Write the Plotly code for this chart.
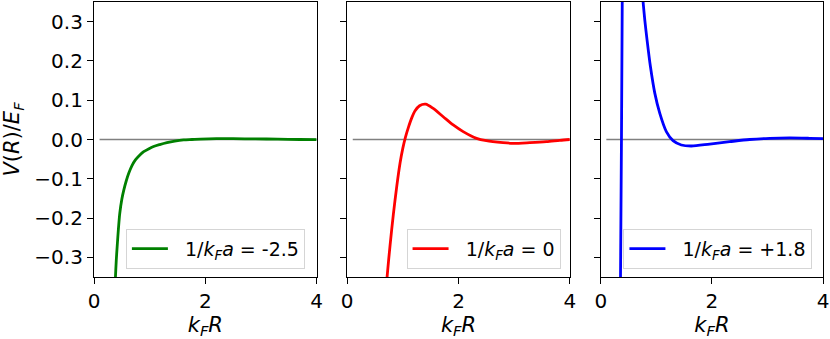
import plotly.graph_objects as go

# data
green_x = [0.37, 0.386, 0.40, 0.416, 0.44, 0.463, 0.50, 0.535, 0.58, 0.624, 0.68, 0.744, 0.82,
           0.893, 0.98, 1.07, 1.18, 1.31, 1.45, 1.61, 1.76, 1.91, 2.2, 2.5, 2.9, 3.3, 3.7, 4.0]
green_y = [-0.42, -0.349, -0.308, -0.273, -0.225, -0.188, -0.152, -0.129, -0.105, -0.086, -0.067,
           -0.052, -0.040, -0.031, -0.024, -0.018, -0.013, -0.008, -0.004, -0.001, 0.0, 0.001,
           0.002, 0.002, 0.0015, 0.001, 0.0, -0.0005]

red_x = [0.69, 0.72, 0.77, 0.83, 0.89, 0.95, 1.00, 1.045, 1.10, 1.16, 1.22, 1.30, 1.41, 1.545,
         1.725, 1.905, 2.084, 2.324, 2.50, 2.80, 2.98, 3.28, 3.58, 3.82, 4.0]
red_y = [-0.40, -0.345, -0.27, -0.19, -0.12, -0.06, -0.022, 0.005, 0.031, 0.055, 0.073, 0.086,
         0.090, 0.079, 0.058, 0.037, 0.020, 0.003, -0.003, -0.008, -0.0097, -0.008, -0.0055,
         -0.002, 0.0]

blue_x = [0.35, 0.372, 0.39, None, 0.745, 0.761, 0.792, 0.833, 0.894, 0.972, 1.061, 1.18, 1.30,
          1.45, 1.63, 1.96, 2.32, 2.68, 3.04, 3.40, 3.76, 4.0]
blue_y = [-0.45, 0.0, 0.45, None, 0.38, 0.351, 0.304, 0.253, 0.185, 0.118, 0.067, 0.020, -0.003,
          -0.014, -0.0166, -0.0115, -0.0055, 0.0, 0.003, 0.004, 0.003, 0.002]

zero_x = [0.1, 4.0]
zero_y = [0.0, 0.0]

labels = ["&nbsp;&nbsp;1/<i>k</i><sub><i>F</i></sub><i>a</i> = -2.5",
          "&nbsp;&nbsp;1/<i>k</i><sub><i>F</i></sub><i>a</i> = 0",
          "&nbsp;&nbsp;1/<i>k</i><sub><i>F</i></sub><i>a</i> = +1.8"]
y_ticks = [-0.3, -0.2, -0.1, 0.0, 0.1, 0.2, 0.3]
x_ticks = [0, 2, 4]

FONT = "DejaVu Sans"
series = [(green_x, green_y, "#008000"), (red_x, red_y, "#ff0000"), (blue_x, blue_y, "#0000ff")]
domains = [[0, 0.3054], [0.3473, 0.6527], [0.6952, 1.0]]
legend_x = [0.2893, 0.640, 0.9855]

fig = go.Figure()

for i, (xs, ys, color) in enumerate(series):
    sfx = "" if i == 0 else str(i + 1)
    fig.add_trace(go.Scatter(
        x=zero_x, y=zero_y, mode="lines",
        line=dict(color="#808080", width=1.5),
        showlegend=False, hoverinfo="skip",
        xaxis="x" + sfx, yaxis="y" + sfx,
    ))
    fig.add_trace(go.Scatter(
        x=xs, y=ys, mode="lines", name=labels[i],
        line=dict(color=color, width=2.8, shape="spline", smoothing=0.8),
        connectgaps=False,
        xaxis="x" + sfx, yaxis="y" + sfx,
        legend="legend" + sfx,
    ))

axis_common = dict(
    showline=True, mirror=True, linecolor="black", linewidth=1.2,
    ticks="outside", ticklen=6, tickwidth=1.2, tickcolor="black",
    showgrid=False, zeroline=False, automargin=False,
    tickfont=dict(family=FONT, size=20, color="black"),
)

layout = dict(
    width=830, height=339,
    margin=dict(l=94, r=7, t=2, b=62),
    paper_bgcolor="white", plot_bgcolor="white",
    font=dict(family=FONT, color="black"),
)

for i in range(3):
    sfx = "" if i == 0 else str(i + 1)
    layout["xaxis" + sfx] = dict(
        axis_common, domain=domains[i], range=[0, 4],
        tickvals=x_ticks, anchor="y" + sfx,
        title=dict(text="<i>k</i><sub><i>F</i></sub><i>R</i>",
                   font=dict(family=FONT, size=21), standoff=8),
    )
    ydict = dict(
        axis_common, domain=[0, 1], range=[-0.35, 0.35],
        tickvals=y_ticks, tickformat=".1f", anchor="x" + sfx,
        showticklabels=(i == 0),
    )
    if i == 0:
        ydict["title"] = dict(text="<i>V</i>(<i>R</i>)/<i>E</i><sub><i>F</i></sub>",
                              font=dict(family=FONT, size=21), standoff=8)
    layout["yaxis" + sfx] = ydict
    layout["legend" + sfx] = dict(
        x=legend_x[i], y=0.03, xanchor="right", yanchor="bottom",
        bgcolor="white", bordercolor="#d5d5d5", borderwidth=1,
        itemwidth=36,
        font=dict(family=FONT, size=19),
    )

fig.update_layout(**layout)
# the page body has a default 8px margin; drop it so the figure sits at the corner
fig.write_html("out.html", config={"displayModeBar": False},
               post_script="document.body.style.margin='0';")
